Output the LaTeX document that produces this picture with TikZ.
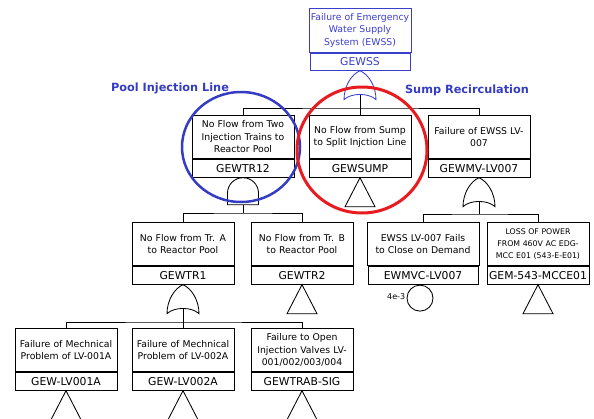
\documentclass[tikz,border=0pt]{standalone}
\usepackage{fontspec}
\newfontfamily\evfont{DejaVu Sans}
\definecolor{EwssBlue}{RGB}{58,62,205}
\definecolor{MarkBlue}{RGB}{52,60,196}
\definecolor{MarkRed}{RGB}{232,28,32}
\usetikzlibrary{positioning}

\tikzset{
  evdesc/.style={draw, fill=white, minimum width=102pt, minimum height=43pt,
    text width=100pt, align=center, inner sep=1pt,
    font=\evfont\fontsize{9.3}{12.5}\selectfont},
  evid/.style={draw, fill=white, minimum width=102pt, minimum height=18pt,
    inner sep=1pt, font=\evfont\fontsize{10.8}{12}\selectfont},
  basicev/.style={draw, circle, minimum size=26pt, inner sep=0pt},
  marklabel/.style={text=MarkBlue, font=\evfont\bfseries\fontsize{11.3}{13}\selectfont},
  orgate/.pic={
    \draw[pic actions] (0,0) .. controls (9,4) and (16,16) .. (16,29)
      .. controls (9,22) and (-9,22) .. (-16,29)
      .. controls (-16,16) and (-9,4) .. (0,0) -- cycle;
    \coordinate (-in) at (0,0);
    \coordinate (-out) at (0,23.8);
  },
  andgate/.pic={
    \draw[pic actions] (-15.5,15.5) .. controls (-15.5,6.9) and (-8.6,0) .. (0,0)
      .. controls (8.6,0) and (15.5,6.9) .. (15.5,15.5)
      -- (15.5,27) -- (-15.5,27) -- cycle;
    \coordinate (-in) at (0,0);
    \coordinate (-out) at (0,27);
  },
  transfer/.pic={
    \draw[pic actions] (0,0) -- (15,29) -- (-15,29) -- cycle;
    \coordinate (-in) at (0,0);
  },
}

\begin{document}
\begin{tikzpicture}[x=1pt, y=-1pt, line width=0.85pt]
\useasboundingbox (0,0) rectangle (594,418);

% top event
\node[evdesc, anchor=north, draw=EwssBlue, text=EwssBlue, minimum width=100pt, minimum height=44pt] (GEWSS) at (360,8)
  {Failure of Emergency\\Water Supply\\System (EWSS)};
\node[evid, below=0pt of GEWSS, draw=EwssBlue, text=EwssBlue, minimum width=100pt, minimum height=17pt] (GEWSS-id) {GEWSS};
\pic[draw=EwssBlue] (g-GEWSS) at (GEWSS-id.south) {orgate};

% second level
\node[evdesc, anchor=north] (GEWTR12) at (243,115) {No Flow from Two\\Injection Trains to\\Reactor Pool};
\node[evid, below=0pt of GEWTR12] (GEWTR12-id) {GEWTR12};
\node[evdesc, anchor=north] (GEWSUMP) at (360,115) {No Flow from Sump\\to Split Injction Line};
\node[evid, below=0pt of GEWSUMP] (GEWSUMP-id) {GEWSUMP};
\node[evdesc, anchor=north] (GEWMV) at (479,115) {Failure of EWSS LV-\\007};
\node[evid, below=0pt of GEWMV] (GEWMV-id) {GEWMV-LV007};

\pic[draw] (g-GEWTR12) at (GEWTR12-id.south) {andgate};
\pic[draw] (t-GEWSUMP) at (GEWSUMP-id.south) {transfer};
\pic[draw] (g-GEWMV) at (GEWMV-id.south) {orgate};

\coordinate (busA) at (360,108);
\draw (g-GEWSS-out) -- (busA);
\draw (GEWTR12.north) |- (busA) -| (GEWMV.north);
\draw (busA) -- (GEWSUMP.north);

% third level
\node[evdesc, anchor=north] (GEWTR1) at (183,222) {No Flow from Tr. A\\to Reactor Pool};
\node[evid, below=0pt of GEWTR1] (GEWTR1-id) {GEWTR1};
\node[evdesc, anchor=north] (GEWTR2) at (302,222) {No Flow from Tr. B\\to Reactor Pool};
\node[evid, below=0pt of GEWTR2] (GEWTR2-id) {GEWTR2};
\node[evdesc, anchor=north, minimum width=110pt, text width=110pt] (EWMVC) at (423,222) {EWSS LV-007 Fails\\to Close on Demand};
\node[evid, below=0pt of EWMVC, minimum width=110pt] (EWMVC-id) {EWMVC-LV007};
\node[evdesc, anchor=north, font=\evfont\fontsize{7.8}{12}\selectfont] (GEM) at (538,222) {LOSS OF POWER\\FROM 460V AC EDG-\\MCC E01 (543-E-E01)};
\node[evid, below=0pt of GEM] (GEM-id) {GEM-543-MCCE01};

\coordinate (busB) at (243,213);
\draw (g-GEWTR12-out) -- (busB);
\draw (GEWTR1.north) |- (busB) -| (GEWTR2.north);
\coordinate (busC) at (479,214);
\draw (g-GEWMV-out) -- (busC);
\draw (EWMVC.north) |- (busC) -| (GEM.north);

\pic[draw] (g-GEWTR1) at (GEWTR1-id.south) {orgate};
\pic[draw] (t-GEWTR2) at (GEWTR2-id.south) {transfer};
\node[basicev, below=0pt of EWMVC-id.south -| busC, xshift=-59pt,
  label={[font=\evfont\fontsize{8}{9}\selectfont, inner sep=1pt, yshift=2pt]left:4e-3}] (EWMVC-ev) {};
\pic[draw] (t-GEM) at (GEM-id.south) {transfer};

% fourth level
\node[evdesc, anchor=north] (LV001A) at (66,328) {Failure of Mechnical\\Problem of LV-001A};
\node[evid, below=0pt of LV001A] (LV001A-id) {GEW-LV001A};
\node[evdesc, anchor=north] (LV002A) at (183,328) {Failure of Mechnical\\Problem of LV-002A};
\node[evid, below=0pt of LV002A] (LV002A-id) {GEW-LV002A};
\node[evdesc, anchor=north] (GEWTRAB) at (302,328) {Failure to Open\\Injection Valves LV-\\001/002/003/004};
\node[evid, below=0pt of GEWTRAB] (GEWTRAB-id) {GEWTRAB-SIG};

\coordinate (busD) at (183,322);
\draw (g-GEWTR1-out) -- (busD);
\draw (LV001A.north) |- (busD) -| (GEWTRAB.north);
\draw (busD) -- (LV002A.north);

\pic[draw] (t-LV001A) at (LV001A-id.south) {transfer};
\pic[draw] (t-LV002A) at (LV002A-id.south) {transfer};
\pic[draw] (t-GEWTRAB) at (GEWTRAB-id.south) {transfer};

% highlighted groups
\draw[MarkBlue, line width=2.5pt] (241,147) ellipse [x radius=59, y radius=55];
\draw[MarkRed, line width=3pt] (362,150) ellipse [x radius=65, y radius=63];
\node[marklabel] (pool) at (170,88) {Pool Injection Line};
\node[marklabel] (sump) at (467,90) {Sump Recirculation};

\end{tikzpicture}
\end{document}
